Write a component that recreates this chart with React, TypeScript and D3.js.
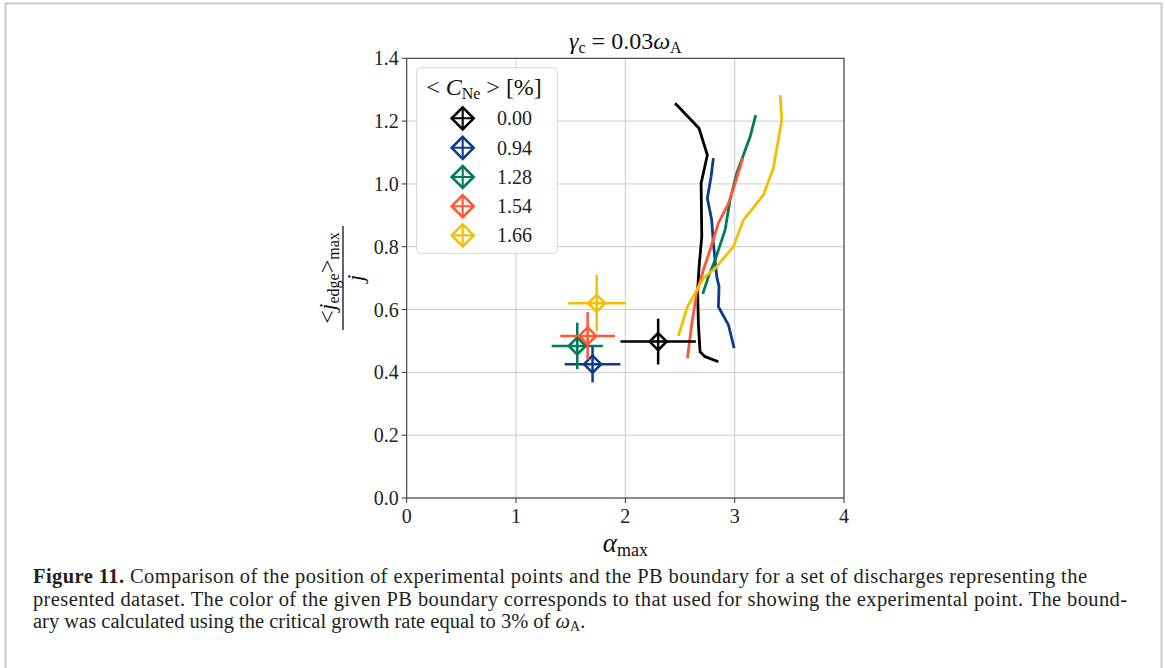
import React from 'react';
import * as d3 from 'd3';

// ---------- data ----------
const concentrations = ['0.00', '0.94', '1.28', '1.54', '1.66'];
const xTicks = [0, 1, 2, 3, 4];
const yTicks = [0.0, 0.2, 0.4, 0.6, 0.8, 1.0, 1.2, 1.4];

// experimental points (alpha_max, j ratio) and their errors
const pointAlpha = [2.3, 1.7, 1.56, 1.655, 1.738];
const pointJ = [0.498, 0.426, 0.484, 0.516, 0.62];
const alphaErr = [0.345, 0.255, 0.234, 0.25, 0.26];
const jErr = [0.073, 0.058, 0.074, 0.076, 0.09];

// PB boundaries
const boundary000: [number, number][] = [
  [2.455, 1.257], [2.674, 1.177], [2.75, 1.092], [2.693, 1.002], [2.699, 0.832],
  [2.677, 0.747], [2.661, 0.662], [2.668, 0.556], [2.683, 0.466], [2.729, 0.45], [2.851, 0.434],
];
const boundary094: [number, number][] = [
  [2.805, 1.082], [2.784, 1.023], [2.75, 0.954], [2.79, 0.885], [2.805, 0.811],
  [2.836, 0.705], [2.857, 0.673], [2.851, 0.609], [2.943, 0.551], [2.995, 0.477],
];
const boundary128: [number, number][] = [
  [3.193, 1.219], [3.141, 1.15], [3.08, 1.092], [3.019, 1.034], [2.958, 0.949],
  [2.912, 0.853], [2.821, 0.758], [2.76, 0.705], [2.708, 0.65],
];
const boundary154: [number, number][] = [
  [3.074, 1.082], [3.004, 1.002], [2.943, 0.938], [2.851, 0.875], [2.775, 0.79],
  [2.714, 0.726], [2.653, 0.652], [2.608, 0.556], [2.568, 0.445],
];
const boundary166: [number, number][] = [
  [3.416, 1.283], [3.431, 1.204], [3.354, 1.05], [3.263, 0.965], [3.08, 0.885],
  [2.988, 0.8], [2.821, 0.731], [2.714, 0.7], [2.568, 0.609], [2.485, 0.516],
];
const boundaries = [boundary000, boundary094, boundary128, boundary154, boundary166];

const palette = ['#000000', '#0c3d8c', '#007a5a', '#ff5733', '#f2c000'];

const FONT = '"Liberation Serif", "DejaVu Serif", serif';

function Diamond({ cx, cy, r, color, sw, cross }: { cx: number; cy: number; r: number; color: string; sw: number; cross: boolean }) {
  return (
    <g>
      <path
        d={`M${cx},${cy - r}L${cx + r},${cy}L${cx},${cy + r}L${cx - r},${cy}Z`}
        fill="none"
        stroke={color}
        strokeWidth={sw}
        strokeLinejoin="miter"
      />
      {cross && (
        <path d={`M${cx - r},${cy}H${cx + r}M${cx},${cy - r}V${cy + r}`} stroke={color} strokeWidth={sw * 0.8} />
      )}
    </g>
  );
}

export default function App() {
  const x = d3.scaleLinear().domain([0, 4]).range([406.7, 844]);
  const y = d3.scaleLinear().domain([0, 1.4]).range([498, 58.3]);
  const line = d3
    .line<[number, number]>()
    .x((d) => x(d[0]))
    .y((d) => y(d[1]));

  const [x0, x1] = x.range();
  const [y0, y1] = y.range();

  const legendX = 416.7;
  const legendY = 67.7;
  const legendRows = [118.3, 147.8, 177, 206.2, 235.4];

  return (
    <div style={{ position: 'absolute', left: 0, top: 0, width: 1165, height: 668, background: '#fff' }}>
      <svg width={1165} height={668} style={{ display: 'block' }} fontFamily={FONT}>
        <rect x={0} y={0} width={1165} height={668} fill="#fff" />
        {/* outer frame */}
        <path d="M5.5,700V3.5H1161.5V700" fill="none" stroke="#c9c9c9" strokeWidth={2} />

        {/* grid */}
        <g stroke="#cbcbcb" strokeWidth={1}>
          {xTicks.map((t) => (
            <line key={'gx' + t} x1={x(t)} x2={x(t)} y1={y1} y2={y0} />
          ))}
          {yTicks.map((t) => (
            <line key={'gy' + t} x1={x0} x2={x1} y1={y(t)} y2={y(t)} />
          ))}
        </g>

        {/* boundaries */}
        {boundaries.map((b, i) => (
          <path key={'b' + i} d={line(b) || ''} fill="none" stroke={palette[i]} strokeWidth={2.8} strokeLinejoin="round" strokeLinecap="butt" />
        ))}

        {/* experimental points with error bars */}
        {pointAlpha.map((a, i) => {
          const cx = x(a);
          const cy = y(pointJ[i]);
          return (
            <g key={'p' + i}>
              <line x1={x(a - alphaErr[i])} x2={x(a + alphaErr[i])} y1={cy} y2={cy} stroke={palette[i]} strokeWidth={2.5} />
              <line x1={cx} x2={cx} y1={y(pointJ[i] - jErr[i])} y2={y(pointJ[i] + jErr[i])} stroke={palette[i]} strokeWidth={2.5} />
              <Diamond cx={cx} cy={cy} r={8.5} color={palette[i]} sw={2.6} cross={false} />
            </g>
          );
        })}

        {/* spines */}
        <rect x={x0} y={y1} width={x1 - x0} height={y0 - y1} fill="none" stroke="#333" strokeWidth={1} />

        {/* ticks */}
        <g stroke="#333" strokeWidth={1}>
          {xTicks.map((t) => (
            <line key={'tx' + t} x1={x(t)} x2={x(t)} y1={y0} y2={y0 + 5} />
          ))}
          {yTicks.map((t) => (
            <line key={'ty' + t} x1={x0 - 5} x2={x0} y1={y(t)} y2={y(t)} />
          ))}
        </g>
        <g fontSize={20} fill="#222">
          {xTicks.map((t) => (
            <text key={'lx' + t} x={x(t)} y={y0 + 25} textAnchor="middle">
              {d3.format('d')(t)}
            </text>
          ))}
          {yTicks.map((t) => (
            <text key={'ly' + t} x={x0 - 8} y={y(t) + 7} textAnchor="end">
              {d3.format('.1f')(t)}
            </text>
          ))}
        </g>

        {/* title */}
        <text x={(x0 + x1) / 2} y={49} textAnchor="middle" fontSize={24} fill="#111">
          <tspan fontStyle="italic">γ</tspan>
          <tspan fontSize={16} dy={4}>c</tspan>
          <tspan dy={-4}> = 0.03</tspan>
          <tspan fontStyle="italic">ω</tspan>
          <tspan fontSize={16} dy={4}>A</tspan>
        </text>

        {/* x label */}
        <text x={(x0 + x1) / 2} y={552} textAnchor="middle" fontSize={27} fill="#111">
          <tspan fontStyle="italic">α</tspan>
          <tspan fontSize={18} dy={4}>max</tspan>
        </text>

        {/* y label (fraction) */}
        <g fill="#111">
          <text transform={`translate(335,278) rotate(-90)`} textAnchor="middle" fontSize={24}>
            <tspan>&lt;</tspan>
            <tspan fontStyle="italic">j</tspan>
            <tspan fontSize={16} dy={4}>edge</tspan>
            <tspan dy={-4}>&gt;</tspan>
            <tspan fontSize={16} dy={4}>max</tspan>
          </text>
          <line x1={343} x2={343} y1={226} y2={330} stroke="#111" strokeWidth={1.3} />
          <text transform={`translate(363,278) rotate(-90)`} textAnchor="middle" fontSize={24} fontStyle="italic">
            j
          </text>
        </g>

        {/* legend */}
        <rect x={legendX} y={legendY} width={140.6} height={185.6} rx={4} ry={4} fill="#fff" fillOpacity={0.85} stroke="#d6d6d6" strokeWidth={1} />
        <text x={484} y={95} textAnchor="middle" fontSize={24} fill="#111">
          <tspan>&lt; </tspan>
          <tspan fontStyle="italic">C</tspan>
          <tspan fontSize={16} dy={4}>Ne</tspan>
          <tspan dy={-4}> &gt; [%]</tspan>
        </text>
        {concentrations.map((c, i) => (
          <g key={'lg' + i}>
            <Diamond cx={462.7} cy={legendRows[i]} r={11} color={palette[i]} sw={2.6} cross={true} />
            <text x={497} y={legendRows[i] + 7} fontSize={20} fill="#222">
              {c}
            </text>
          </g>
        ))}

        {/* caption */}
        <g fontSize={20.5} fill="#231f20">
          <text x={33} y={583} textLength={1054} lengthAdjust="spacing">
            <tspan fontWeight="bold">Figure 11.</tspan>
            <tspan> Comparison of the position of experimental points and the PB boundary for a set of discharges representing the</tspan>
          </text>
          <text x={33} y={605.5} textLength={1094} lengthAdjust="spacing">
            presented dataset. The color of the given PB boundary corresponds to that used for showing the experimental point. The bound-
          </text>
          <text x={33} y={628}>
            <tspan>ary was calculated using the critical growth rate equal to 3% of </tspan>
            <tspan fontStyle="italic">ω</tspan>
            <tspan fontSize={14} dy={3}>A</tspan>
            <tspan dy={-3}>.</tspan>
          </text>
        </g>
      </svg>
    </div>
  );
}
